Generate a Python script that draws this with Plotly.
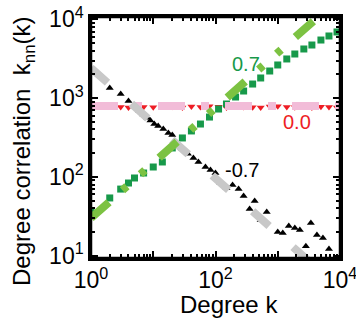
import plotly.graph_objects as go

# ---------------- data ----------------
# assortative network (r = 0.7): dark-green squares
pos_k = [1, 2, 3, 4, 5, 7, 10, 14, 20.2, 29.4, 41, 57.3, 80, 112, 150, 210, 283, 395,
         532, 743, 1000, 1397, 1880, 2625, 3535, 4940, 6650, 8950]
pos_knn = [35.8, 54, 70, 83.6, 96.8, 112, 133.5, 154.6, 233, 312, 383, 469, 575, 727,
           842, 1033, 1231, 1510, 1802, 2210, 2635, 3141, 3633, 4205, 4724, 5466, 6150, 6915]

# neutral network (r = 0.0): red down-triangles
neu_k = pos_k
neu_knn = [790, 780, 770, 760, 785, 770, 765, 790, 775, 760, 780, 770, 790, 775, 760,
           780, 770, 765, 760, 780, 790, 770, 765, 780, 760, 775, 770, 760]

# disassortative network (r = -0.7): black up-triangles
neg_k = [2, 3, 4, 5, 6, 7, 8, 9, 10.4, 12, 14.5, 17.5, 20.2, 24, 29, 36, 44.2, 53.2,
         69, 83, 100, 120, 150, 188, 235, 283, 353, 426, 532, 665, 1000, 1205, 1504,
         1880, 2264, 2830, 3404, 4256, 5321, 6650]
neg_knn = [1345, 1128, 919, 780, 687, 617, 562, 518, 469, 442, 405, 361, 340, 261, 228,
           196, 174, 155, 133, 122, 112, 84.5, 72.4, 78.9, 70.2, 57.2, 39.1, 49.4, 28.4,
           35.8, 20.0, 19.4, 23.8, 22.4, 21.2, 13.2, 26.0, 18.3, 16.7, 12.1]

# guide lines (slopes 0.7, 0.0, -0.7)
fit_k = [1, 10000]
fit_pos = [30, 18940]
fit_neu = [795, 795]
fit_neg = [2410, 3.8]

labels = ["0.7", "0.0", "-0.7"]

x_major = [1, 10, 100, 1000, 10000]
x_ticktext = ["10<sup>0</sup>", "", "10<sup>2</sup>", "", "10<sup>4</sup>"]
y_major = [10, 100, 1000, 10000]
y_ticktext = ["10<sup>1</sup>", "10<sup>2</sup>", "10<sup>3</sup>", "10<sup>4</sup>"]
X_RANGE = [0, 4]
Y_RANGE = [0.97, 4.03]

DARK_GREEN = "#17994a"
LIGHT_GREEN = "#7cc242"
PINK = "#f2bcd8"
RED = "#ee1d25"
GRAY = "#c8c8c8"
FONT = "Liberation Sans, Arial, Helvetica, sans-serif"

fig = go.Figure()

fig.add_trace(go.Scatter(x=neg_k, y=neg_knn, mode="markers",
                         marker=dict(symbol="triangle-up", size=7, color="black")))
fig.add_trace(go.Scatter(x=neu_k, y=neu_knn, mode="markers",
                         marker=dict(symbol="triangle-down", size=7, color=RED)))
fig.add_trace(go.Scatter(x=pos_k, y=pos_knn, mode="markers",
                         marker=dict(symbol="square", size=7, color=DARK_GREEN)))

fig.add_trace(go.Scatter(x=fit_k, y=fit_neu, mode="lines",
                         line=dict(color=PINK, width=8, dash="27px,16px,8px,16px")))
fig.add_trace(go.Scatter(x=fit_k, y=fit_neg, mode="lines",
                         line=dict(color=GRAY, width=8, dash="22px,32px")))
fig.add_trace(go.Scatter(x=fit_k, y=fit_pos, mode="lines",
                         line=dict(color=LIGHT_GREEN, width=8,
                                   dash="24px,18px,6px,18px,6px,19px")))
# empty trace that carries the mirrored (top / right) tick axes
fig.add_trace(go.Scatter(x=[], y=[], xaxis="x2", yaxis="y2", mode="markers",
                         hoverinfo="skip"))

minor_vals = [m * 10 ** e for e in range(0, 4) for m in range(2, 10)]

axis_common = dict(
    type="log", showgrid=False, zeroline=False, automargin=False,
    showline=True, linecolor="black", linewidth=2.5, mirror=True,
    ticks="inside", ticklen=7, tickwidth=2, tickcolor="black",
    ticklabeloverflow="allow",
    tickfont=dict(family=FONT, size=23, color="black"),
    minor=dict(ticks="inside", ticklen=4, tickwidth=1.5, tickcolor="black",
               tickmode="array", tickvals=minor_vals, showgrid=False),
)

fig.update_layout(
    template="none",
    width=356, height=328,
    margin=dict(l=91, r=16, t=17, b=70),
    paper_bgcolor="white", plot_bgcolor="white",
    showlegend=False,
    xaxis=dict(axis_common, range=X_RANGE,
               tickmode="array", tickvals=x_major, ticktext=x_ticktext),
    yaxis=dict(axis_common, range=Y_RANGE,
               tickmode="array", tickvals=y_major, ticktext=y_ticktext),
    xaxis2=dict(axis_common, range=X_RANGE, overlaying="x", side="top", anchor="y2",
                showticklabels=False, tickmode="array", tickvals=x_major),
    yaxis2=dict(axis_common, range=Y_RANGE, overlaying="y", side="right", anchor="x2",
                showticklabels=False, tickmode="array", tickvals=y_major),
    font=dict(family=FONT, color="black"),
)

fig.add_shape(type="rect", xref="paper", yref="paper", x0=0, x1=1, y0=0, y1=1,
              line=dict(color="black", width=2.5), layer="above")

fig.add_annotation(x=2.484, y=3.43, xref="x", yref="y", text=labels[0], showarrow=False,
                   font=dict(family=FONT, size=20, color=DARK_GREEN))
fig.add_annotation(x=3.306, y=2.697, xref="x", yref="y", text=labels[1], showarrow=False,
                   font=dict(family=FONT, size=20, color=RED))
fig.add_annotation(x=2.419, y=2.087, xref="x", yref="y", text=labels[2], showarrow=False,
                   font=dict(family=FONT, size=20, color="black"))

fig.add_annotation(x=0.554, y=-0.195, xref="paper", yref="paper", text="Degree k",
                   xanchor="center", yanchor="middle",
                   showarrow=False, font=dict(family=FONT, size=24, color="black"))
fig.add_annotation(x=-0.269, y=0.44, xref="paper", yref="paper",
                   xanchor="center", yanchor="middle",
                   text="Degree correlation  k<sub>nn</sub>(k)", textangle=-90,
                   showarrow=False, font=dict(family=FONT, size=24, color="black"))

# remove the browser's default 8px page margin so the figure fills the window
fig.write_html("out.html",
               config={"displayModeBar": False},
               post_script="document.body.style.margin='0';document.body.style.padding='0';")
